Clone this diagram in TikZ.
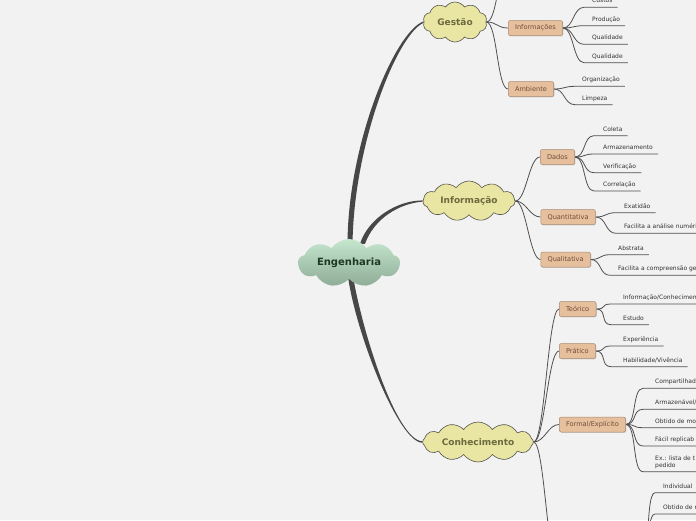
\documentclass[tikz,border=0pt]{standalone}
\usepackage{fontspec}
\setmainfont{DejaVu Sans}
\usepackage{tikz}
\usetikzlibrary{shapes.symbols,shadows,backgrounds}
\usepackage{xcolor}
\definecolor{mapbg}{HTML}{F2F2F2}
\definecolor{trunkc}{HTML}{474747}
\definecolor{linkc}{HTML}{505050}
\definecolor{rootlight}{HTML}{C6E6CE}
\definecolor{rootdark}{HTML}{8EAC96}
\definecolor{roottext}{HTML}{1E3822}
\definecolor{cloudfill}{HTML}{E9E5A3}
\definecolor{cloudline}{HTML}{55554E}
\definecolor{cloudtext}{HTML}{6C6A3E}
\definecolor{boxfill}{HTML}{E6BF9D}
\definecolor{boxline}{HTML}{A88A70}
\definecolor{boxtext}{HTML}{6E4E38}
\definecolor{leaftext}{HTML}{333333}

\begin{document}
\begin{tikzpicture}[
    x=1pt, y=-1pt,
    rootcloud/.style={cloud, cloud puffs=9, cloud puff arc=110, cloud ignores aspect,
                      minimum width=102pt, minimum height=48pt, draw=none,
                      top color=rootlight, bottom color=rootdark,
                      font=\fontsize{10}{12}\selectfont\bfseries, text=roottext},
    topic/.style={cloud, cloud puffs=10, cloud puff arc=110, cloud ignores aspect,
                  minimum height=40pt, draw=cloudline, line width=0.6pt, fill=cloudfill,
                  font=\fontsize{9}{11}\selectfont\bfseries, text=cloudtext},
    subtopic/.style={rectangle, rounded corners=2pt, draw=boxline, line width=0.5pt,
                     fill=boxfill, minimum height=15pt, inner xsep=6.8pt, anchor=west,
                     font=\fontsize{6.6}{8}\selectfont, text=boxtext,
                     drop shadow={shadow xshift=0.8pt, shadow yshift=-0.9pt, opacity=0.3}},
    leaf/.style={anchor=south west, inner xsep=0pt, inner ysep=2.7pt, align=left,
                 text height=4.5pt, text depth=1.5pt,
                 font=\fontsize{6}{7}\selectfont, text=leaftext},
    trunk/.style={fill=trunkc},
    link/.style={draw=linkc, line width=0.8pt, out=0, in=180,
                 out distance=11pt, in distance=11pt},
]
\useasboundingbox (0,0) rectangle (696,520);
\clip (0,0) rectangle (696,520);

\node[rootcloud] (root) at (349,263) {Engenharia};
\node[topic, minimum width=64pt] (gest) at (455,22) {Gestão};
\node[topic, minimum width=92pt, cloud puffs=11] (info) at (469,201) {Informação};
\node[topic, minimum width=110pt, cloud puffs=12] (conh) at (478,442) {Conhecimento};

\coordinate (gtop) at (508,-30);
\node[subtopic] (infs) at (508,28) {Informações};
\node[subtopic] (amb) at (508,89) {Ambiente};
\node[subtopic] (dados) at (540,157) {Dados};
\node[subtopic] (quant) at (540.5,217) {Quantitativa};
\node[subtopic] (qual) at (540.5,259.5) {Qualitativa};
\node[subtopic] (teo) at (559,309) {Teórico};
\node[subtopic] (prat) at (559,351) {Prático};
\node[subtopic] (form) at (559,424.5) {Formal/Explícito};
\coordinate (kw) at (559,575);
\coordinate (ke) at (640,590);

\node[leaf] (i1) at (592,7.3) {Custos};
\node[leaf] (i2) at (592,25.7) {Produção};
\node[leaf] (i3) at (592,44.3) {Qualidade};
\node[leaf] (i4) at (592,62.7) {Qualidade};
\node[leaf] (a1) at (582,86.3) {Organização};
\node[leaf] (a2) at (582,104.7) {Limpeza};
\node[leaf] (d1) at (603,135.7) {Coleta};
\node[leaf] (d2) at (603,154) {Armazenamento};
\node[leaf] (d3) at (603,172.7) {Verificação};
\node[leaf] (d4) at (603,191) {Correlação};
\node[leaf] (q1) at (624,212.7) {Exatidão};
\node[leaf] (q2) at (624,233.3) {Facilita a análise numéri};
\node[leaf] (l1) at (618,254.7) {Abstrata};
\node[leaf] (l2) at (618,275.3) {Facilita a compreensão ge};
\node[leaf] (t1) at (623,304) {Informação/Conhecimen};
\node[leaf] (t2) at (623,324.7) {Estudo};
\node[leaf] (p1) at (623,346) {Experiência};
\node[leaf] (p2) at (623,366.7) {Habilidade/Vivência};
\node[leaf] (f1) at (655,388.3) {Compartilhad};
\node[leaf] (f2) at (655,409.3) {Armazenável/};
\node[leaf] (f3) at (655,427.7) {Obtido de mo};
\node[leaf] (f4) at (655,446) {Fácil replicab};
\node[leaf] (f5) at (655,471.7) {Ex.: lista de t\\pedido};
\node[leaf] (k1) at (663,492.7) {Individual};
\node[leaf] (k2) at (663,514) {Obtido de r};

\begin{pgfonlayer}{background}
\clip (0,0) rectangle (696,520);
\fill[mapbg] (0,0) rectangle (696,520);

\fill[trunk] ([xshift=-1.5pt,yshift=-6pt]root.north) .. controls +(0,-100) and +(-29,10) .. ([yshift=0.7pt]gest.west)
    -- ([yshift=-0.7pt]gest.west) .. controls +(-27,12) and +(1,-100) .. ([xshift=3.5pt,yshift=-6pt]root.north) -- cycle;
\fill[trunk] ([xshift=11pt,yshift=-5pt]root.north) .. controls +(8,-25) and +(-26,0) .. ([yshift=0.6pt]info.west)
    -- ([yshift=-0.6pt]info.west) .. controls +(-24,2) and +(9,-25) .. ([xshift=16pt,yshift=-5pt]root.north) -- cycle;
\fill[trunk] ([xshift=-1.5pt,yshift=6pt]root.south) .. controls +(7,57) and +(-24,0) .. ([yshift=-0.7pt]conh.west)
    -- ([yshift=0.7pt]conh.west) .. controls +(-26,-1) and +(9,57) .. ([xshift=3.5pt,yshift=6pt]root.south) -- cycle;

\draw[link] (gest.east) to (gtop);
\draw[link] (gest.east) to (infs.west);
\draw[link] (gest.east) to (amb.west);
\draw[link] (info.east) to (dados.west);
\draw[link] (info.east) to (quant.west);
\draw[link] (info.east) to (qual.west);
\draw[link] (conh.east) to (teo.west);
\draw[link] (conh.east) to (prat.west);
\draw[link] (conh.east) to (form.west);
\draw[link] (conh.east) to (kw);

\draw[link] (infs.east) to ([xshift=-8pt]i1.south west) -- ([xshift=5pt]i1.south east);
\draw[link] (infs.east) to ([xshift=-8pt]i2.south west) -- ([xshift=5pt]i2.south east);
\draw[link] (infs.east) to ([xshift=-8pt]i3.south west) -- ([xshift=5pt]i3.south east);
\draw[link] (infs.east) to ([xshift=-8pt]i4.south west) -- ([xshift=5pt]i4.south east);
\draw[link] (amb.east) to ([xshift=-7pt]a1.south west) -- ([xshift=5pt]a1.south east);
\draw[link] (amb.east) to ([xshift=-7pt]a2.south west) -- ([xshift=5pt]a2.south east);
\draw[link] (dados.east) to ([xshift=-9pt]d1.south west) -- ([xshift=5pt]d1.south east);
\draw[link] (dados.east) to ([xshift=-9pt]d2.south west) -- ([xshift=5pt]d2.south east);
\draw[link] (dados.east) to ([xshift=-9pt]d3.south west) -- ([xshift=5pt]d3.south east);
\draw[link] (dados.east) to ([xshift=-9pt]d4.south west) -- ([xshift=5pt]d4.south east);
\draw[link] (quant.east) to ([xshift=-8pt]q1.south west) -- ([xshift=5pt]q1.south east);
\draw[link] (quant.east) to ([xshift=-8pt]q2.south west) -- ([xshift=5pt]q2.south east);
\draw[link] (qual.east) to ([xshift=-8pt]l1.south west) -- ([xshift=5pt]l1.south east);
\draw[link] (qual.east) to ([xshift=-8pt]l2.south west) -- ([xshift=5pt]l2.south east);
\draw[link] (teo.east) to ([xshift=-12pt]t1.south west) -- ([xshift=5pt]t1.south east);
\draw[link] (teo.east) to ([xshift=-12pt]t2.south west) -- ([xshift=5pt]t2.south east);
\draw[link] (prat.east) to ([xshift=-12pt]p1.south west) -- ([xshift=5pt]p1.south east);
\draw[link] (prat.east) to ([xshift=-12pt]p2.south west) -- ([xshift=5pt]p2.south east);
\draw[link] (form.east) to ([xshift=-12pt]f1.south west) -- ([xshift=5pt]f1.south east);
\draw[link] (form.east) to ([xshift=-12pt]f2.south west) -- ([xshift=5pt]f2.south east);
\draw[link] (form.east) to ([xshift=-12pt]f3.south west) -- ([xshift=5pt]f3.south east);
\draw[link] (form.east) to ([xshift=-12pt]f4.south west) -- ([xshift=5pt]f4.south east);
\draw[link] (form.east) to ([xshift=-12pt]f5.south west) -- ([xshift=5pt]f5.south east);
\draw[link] (ke) to ([xshift=-8pt]k1.south west) -- ([xshift=5pt]k1.south east);
\draw[link] (ke) to ([xshift=-8pt]k2.south west) -- ([xshift=5pt]k2.south east);
\end{pgfonlayer}
\end{tikzpicture}
\end{document}
